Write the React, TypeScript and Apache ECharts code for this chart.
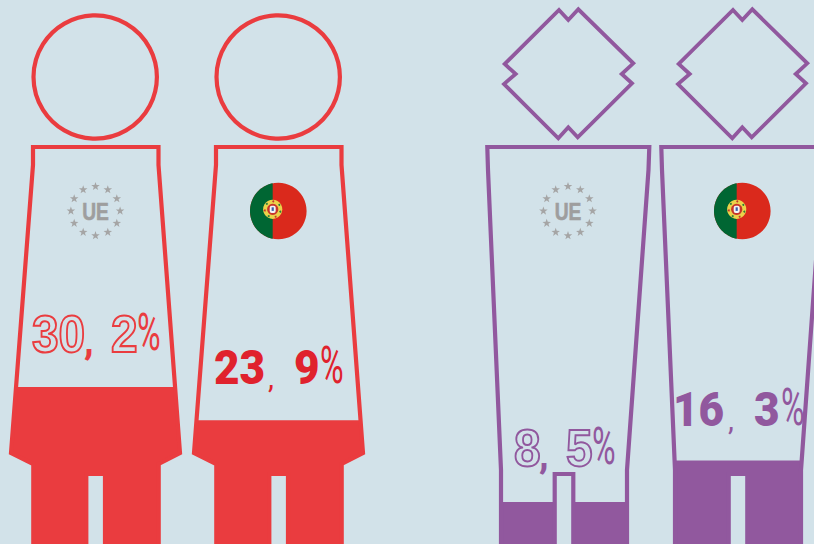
import React, { useEffect, useRef } from "react";
import * as echarts from "echarts";

const categories = ["UE A", "Portugal A", "UE B", "Portugal B"];
const values = [30.2, 23.9, 8.5, 16.3];
const integerLabels = ["30", "23", "8", "16"];
const decimalLabels = ["2", "9", "5", "3"];
const emblemLabel = "UE";

const BG = "#D2E2E9";
const RED = "#EA3C3F";
const RED_TEXT = "#E0222D";
const PURPLE = "#91589E";
const GREY = "#A5A5A5";

// The figures' zero line lies 3px below the page's bottom edge
const ZERO_OFFSET = 3;

// Layout of each figure
const redBody: number[][] = [[33, 147], [158.5, 147], [158.5, 165], [180, 453], [158.7, 464], [158.7, 570], [105, 570], [105, 474], [86.3, 474], [86.3, 570], [33.3, 570], [33.3, 464], [11, 453], [33, 165]];
const purpleBody: number[][] = [[487.3, 147], [649.3, 147], [648.5, 170], [627, 470], [627, 570], [573.3, 570], [573.3, 474], [554.7, 474], [554.7, 570], [501, 570], [501, 470], [488, 170]];
const diamond: number[][] = [[559, 10], [568.3, 20], [578.3, 9.3], [633.3, 63.3], [621.7, 74], [632, 83.3], [577.7, 137.3], [568.3, 127.3], [558.3, 138.3], [504, 84], [515.7, 74], [504.7, 64]];
const layouts = [
  { dx: 0, body: redBody, color: RED, textColor: RED, head: "circle", cx: 95.2, outlined: true, emblemX: 95.5, flag: false, baseline: 352, xs: [31, 84, 110, 137] },
  { dx: 183, body: redBody, color: RED, textColor: RED_TEXT, head: "circle", cx: 278.2, outlined: false, emblemX: 278.3, flag: true, baseline: 385, xs: [214, 268, 294, 320] },
  { dx: 0, body: purpleBody, color: PURPLE, textColor: PURPLE, head: "diamond", cx: 0, outlined: true, emblemX: 568, flag: false, baseline: 466, xs: [513, 539, 565, 592] },
  { dx: 174, body: purpleBody, color: PURPLE, textColor: PURPLE, head: "diamond", cx: 174, outlined: false, emblemX: 742.3, flag: true, baseline: 427, xs: [673, 728, 754, 781] },
];

function clipBelow(points: number[][], level: number) {
  const out: number[][] = [];
  for (let i = 0; i < points.length; i++) {
    const a = points[i];
    const b = points[(i + 1) % points.length];
    const aIn = a[1] >= level;
    const bIn = b[1] >= level;
    if (aIn) out.push(a);
    if (aIn !== bIn) {
      const t = (level - a[1]) / (b[1] - a[1]);
      out.push([a[0] + (b[0] - a[0]) * t, level]);
    }
  }
  return out;
}

function star(cx: number, cy: number, r: number) {
  const pts: number[][] = [];
  for (let i = 0; i < 10; i++) {
    const rr = i % 2 === 0 ? r : r * 0.4;
    const a = -Math.PI / 2 + (i * Math.PI) / 5;
    pts.push([cx + rr * Math.cos(a), cy + rr * Math.sin(a)]);
  }
  return pts;
}

function emblemUE(x: number, y: number) {
  const kids: any[] = [];
  for (let i = 0; i < 12; i++) {
    const a = (i * Math.PI) / 6;
    kids.push({ type: "polygon", shape: { points: star(x + 24.6 * Math.sin(a), y - 24.6 * Math.cos(a), 4.5) }, style: { fill: GREY } });
  }
  kids.push({
    type: "text", x, y: y + 0.5, scaleX: 0.8,
    style: { text: emblemLabel, fill: "#9E9E9E", stroke: "#9E9E9E", lineWidth: 0.6, font: "700 24px 'Liberation Sans'", align: "center", verticalAlign: "middle" },
  });
  return kids;
}

function emblemFlag(x: number, y: number) {
  const R = 28.3;
  const off = 5.6;
  const sx = x - off;
  const sy = y - 1.7;
  const start = Math.acos(off / R);
  const seg: number[][] = [];
  for (let k = 0; k <= 48; k++) {
    const a = Math.PI + start - (k / 48) * 2 * start;
    seg.push([x + R * Math.cos(a), y + R * Math.sin(a)]);
  }
  const dots: any[] = [];
  for (let k = 0; k < 7; k++) {
    const a = (k * 2 * Math.PI) / 7 + 0.3;
    dots.push({ type: "circle", shape: { cx: sx + 8 * Math.cos(a), cy: sy + 8 * Math.sin(a), r: 1 }, style: { fill: k % 2 ? "#C8352B" : "#2E7D3A" } });
  }
  return [
    { type: "circle", shape: { cx: x, cy: y, r: R }, style: { fill: "#DA291C" } },
    { type: "polygon", shape: { points: seg }, style: { fill: "#006633" } },
    { type: "circle", shape: { cx: sx, cy: sy, r: 9.6 }, style: { fill: "#EBD24A" } },
    ...dots,
    { type: "circle", shape: { cx: sx, cy: sy, r: 5.6 }, style: { fill: "#C8352B" } },
    { type: "rect", shape: { x: sx - 3, y: sy - 3.6, width: 6, height: 7.4, r: 2 }, style: { fill: "#F4F4F4" } },
    { type: "rect", shape: { x: sx - 1.1, y: sy - 2, width: 2.2, height: 3.6 }, style: { fill: "#3A5FA8" } },
  ];
}

function digitText(text: string, x: number, y: number, color: string, outlined: boolean) {
  return outlined
    ? {
        type: "text", x: x + 1, y: y + 1, scaleX: 0.92,
        style: { text, fill: "transparent", stroke: color, lineWidth: 2, font: "700 52px 'Liberation Sans'", align: "left", verticalAlign: "bottom" },
      }
    : {
        type: "text", x, y, scaleX: 0.9,
        style: { text, fill: color, font: "900 49px Roboto", align: "left", verticalAlign: "bottom" },
      };
}

function renderItem(params: any, api: any) {
  const i = params.dataIndex;
  const L = layouts[i];
  const level = api.coord([i, api.value(1)])[1] + ZERO_OFFSET;
  const body = L.body.map((p) => [p[0] + L.dx, p[1]]);
  const kids: any[] = [];
  kids.push({ type: "polygon", shape: { points: clipBelow(body, level) }, style: { fill: L.color } });
  kids.push({ type: "polygon", shape: { points: body }, style: { fill: "transparent", stroke: L.color, lineWidth: 4.2, lineJoin: "miter" } });
  if (L.head === "circle") {
    kids.push({ type: "circle", shape: { cx: L.cx, cy: 77, r: 61.7 }, style: { fill: "transparent", stroke: L.color, lineWidth: 4.2 } });
  } else {
    kids.push({ type: "polygon", shape: { points: diamond.map((p) => [p[0] + L.cx, p[1]]) }, style: { fill: "transparent", stroke: L.color, lineWidth: 3.8 } });
  }
  kids.push(...(L.flag ? emblemFlag(L.emblemX, 211) : emblemUE(L.emblemX, 211)));
  const [xInt, xComma, xDec, xPct] = L.xs;
  const b = L.baseline + 7;
  kids.push(digitText(integerLabels[i], xInt, b, L.textColor, L.outlined));
  kids.push({
    type: "text", x: xComma, y: L.baseline + (L.outlined ? 8 : 7),
    style: { text: ",", fill: L.textColor, font: L.outlined ? "900 36px Roboto" : "400 30px Roboto", align: "left", verticalAlign: "bottom" },
  });
  kids.push(digitText(decimalLabels[i], xDec, b, L.textColor, L.outlined));
  kids.push({
    type: "text", x: xPct, y: b, scaleX: 0.62,
    style: { text: "%", fill: L.textColor, font: "400 52px Roboto", align: "left", verticalAlign: "bottom" },
  });
  return { type: "group", children: kids };
}

export default function App() {
  const ref = useRef<HTMLDivElement>(null);
  useEffect(() => {
    document.body.style.margin = "0";
    const chart = echarts.init(ref.current!, undefined, { renderer: "svg" });
    chart.setOption({
      animation: false,
      backgroundColor: BG,
      grid: { left: 0, top: 14, width: 814, height: 530 },
      xAxis: { type: "category", data: categories, show: false },
      yAxis: { type: "value", min: 0, max: 100, show: false },
      series: [
        {
          type: "custom",
          clip: false,
          renderItem,
          encode: { x: 0, y: 1 },
          data: values.map((v, i) => [i, v]),
        },
      ],
    });
    return () => chart.dispose();
  }, []);
  return <div ref={ref} style={{ width: 814, height: 544 }} />;
}
